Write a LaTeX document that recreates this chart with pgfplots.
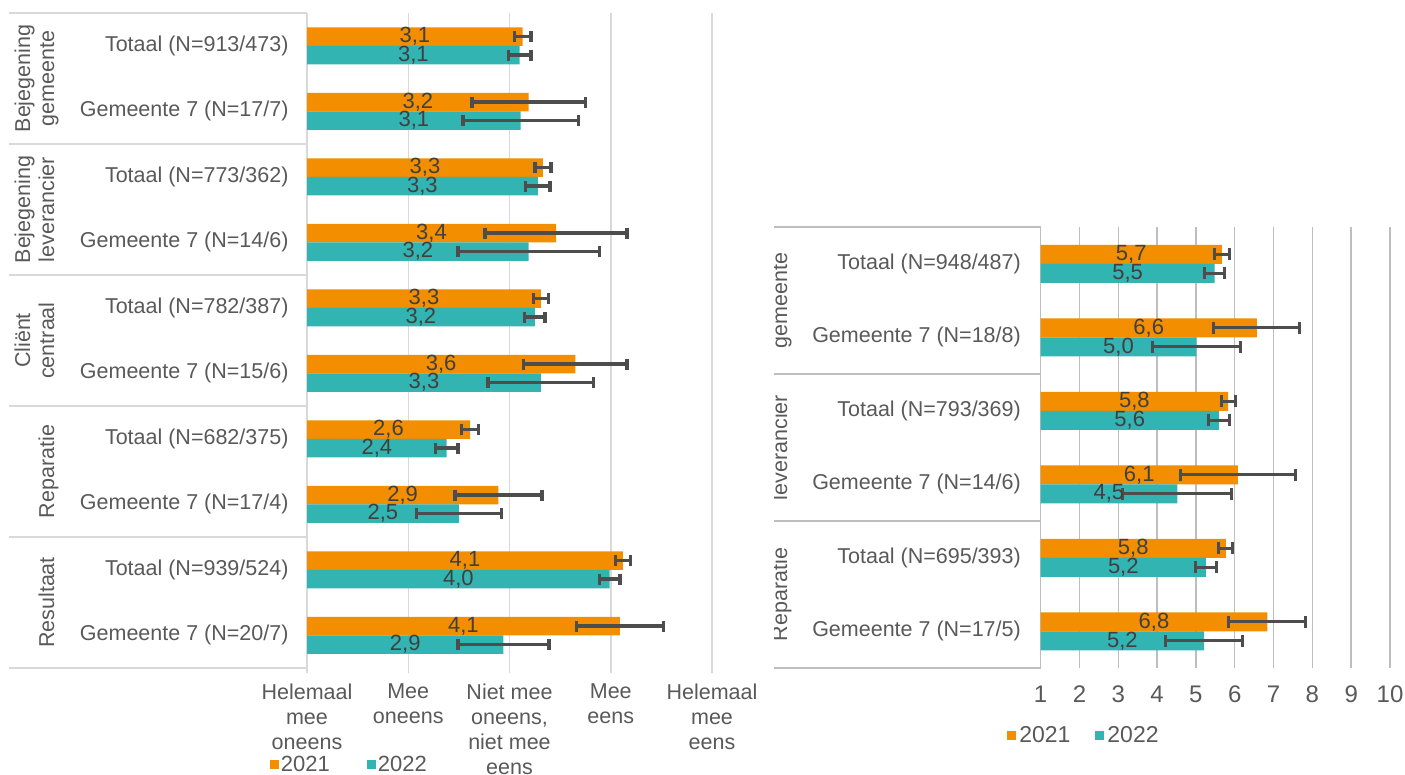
\documentclass[border=0pt]{standalone}
\usepackage{pgfplots}
\pgfplotsset{compat=1.18}
\usepackage{pgfplotstable}
\usepackage{fontspec}
\setmainfont{Liberation Sans}
\definecolor{cor}{RGB}{242,142,0}
\definecolor{cteal}{RGB}{50,180,178}
\definecolor{txt}{RGB}{89,89,89}
\definecolor{labc}{RGB}{64,64,64}
\definecolor{errc}{RGB}{77,77,77}
\definecolor{gridl}{RGB}{217,217,217}
\definecolor{gridr}{RGB}{190,190,190}

\pgfplotstableread{
y v e lab
0 3.13 0.08 3,1
1 3.19 0.56 3,2
2 3.33 0.08 3,3
3 3.46 0.70 3,4
4 3.31 0.075 3,3
5 3.65 0.51 3,6
6 2.61 0.085 2,6
7 2.89 0.43 2,9
8 4.12 0.075 4,1
9 4.09 0.43 4,1
}\leftA
\pgfplotstableread{
y v e lab
0 3.10 0.11 3,1
1 3.11 0.57 3,1
2 3.28 0.12 3,3
3 3.19 0.70 3,2
4 3.25 0.10 3,2
5 3.31 0.52 3,3
6 2.38 0.11 2,4
7 2.50 0.42 2,5
8 3.99 0.10 4,0
9 2.94 0.45 2,9
}\leftB
\pgfplotstableread{
y v e lab
0 5.67 0.19 5,7
1 6.57 1.11 6,6
2 5.83 0.18 5,8
3 6.08 1.48 6,1
4 5.77 0.18 5,8
5 6.84 0.99 6,8
}\rightA
\pgfplotstableread{
y v e lab
0 5.48 0.26 5,5
1 5.01 1.13 5,0
2 5.59 0.27 5,6
3 4.52 1.40 4,5
4 5.26 0.28 5,2
5 5.21 1.00 5,2
}\rightB

\pgfplotsset{
  mybars/.style={
    xbar, bar width=18.5pt,
    point meta=explicit symbolic,
    nodes near coords,
    visualization depends on={rawx \as \rawx},
    every node near coord/.append style={anchor=center, text=labc,
      font=\fontsize{22}{24}\selectfont,
      shift={(axis direction cs:{-(\rawx-1)/2},0)}},
    legend image code/.code={\fill[##1] (0pt,-4.5pt) rectangle (9pt,4.5pt);},
  },
}

\begin{document}
\begin{tikzpicture}
\path[use as bounding box] (0pt,0pt) rectangle (1405pt,-774pt);

% ---------------- left panel ----------------
\begin{axis}[
  mybars,
  at={(307pt,-13pt)}, anchor=north west,
  scale only axis, width=405pt, height=655pt,
  xmin=1, xmax=5, ymin=-0.5, ymax=9.5, y dir=reverse,
  axis lines*=left,
  x axis line style={draw=none},
  y axis line style={draw=gridl, line width=1.5pt},
  xtick={1,2,3,4,5},
  xticklabels={{Helemaal\\mee\\oneens},{Mee\\oneens},{Niet mee\\oneens,\\niet mee\\eens},{Mee\\eens},{Helemaal\\mee\\eens}},
  xticklabel style={align=center, anchor=north, text=txt, yshift=-7pt,
    font=\fontsize{21.5}{25}\selectfont},
  xtick style={draw=gridl, line width=1.5pt},
  tick align=outside, major tick length=5pt,
  ytick={0,...,9},
  yticklabels={{Totaal (N=913/473)},{Gemeente 7 (N=17/7)},{Totaal (N=773/362)},{Gemeente 7 (N=14/6)},{Totaal (N=782/387)},{Gemeente 7 (N=15/6)},{Totaal (N=682/375)},{Gemeente 7 (N=17/4)},{Totaal (N=939/524)},{Gemeente 7 (N=20/7)}},
  yticklabel style={text=txt, font=\fontsize{21.5}{25}\selectfont, xshift=-10pt},
  ytick style={draw=none},
  xmajorgrids, grid style={draw=gridl, line width=1.5pt},
  legend columns=2,
  legend style={at={(-0.092,-0.148)}, anchor=west, draw=none, fill=none,
    inner sep=0pt, font=\fontsize{22}{24}\selectfont, text=txt,
    /tikz/every even column/.append style={column sep=35pt},
    nodes={inner sep=2pt}},
  error bars/error bar style={line width=3.5pt, draw=errc},
  error bars/error mark options={line width=3.5pt, draw=errc, mark size=5.5pt, rotate=90},
]
\addplot[fill=cor, draw=none, bar shift=9.25pt,
  error bars/.cd, x dir=both, x explicit]
  table[x=v, y=y, x error=e, meta=lab]{\leftA};
\addplot[fill=cteal, draw=none, bar shift=-9.25pt,
  error bars/.cd, x dir=both, x explicit]
  table[x=v, y=y, x error=e, meta=lab]{\leftB};
\legend{2021,2022}
\end{axis}

% ---------------- right panel ----------------
\begin{axis}[
  mybars, bar width=19pt,
  at={(1040.6pt,-227pt)}, anchor=north west,
  scale only axis, width=349.4pt, height=441pt,
  xmin=1, xmax=10, ymin=-0.5, ymax=5.5, y dir=reverse,
  axis lines*=left,
  x axis line style={draw=none},
  y axis line style={draw=gridr, line width=1.5pt},
  xtick={1,...,10},
  /pgf/number format/assume math mode=true,
  xticklabel style={text=txt, yshift=-14pt, font=\fontsize{24}{26}\selectfont},
  xtick style={draw=none},
  ytick={0,...,5},
  yticklabels={{Totaal (N=948/487)},{Gemeente 7 (N=18/8)},{Totaal (N=793/369)},{Gemeente 7 (N=14/6)},{Totaal (N=695/393)},{Gemeente 7 (N=17/5)}},
  yticklabel style={text=txt, font=\fontsize{21.5}{25}\selectfont, xshift=-12pt},
  ytick style={draw=none},
  xmajorgrids, grid style={draw=gridr, line width=1.5pt},
  legend columns=2,
  legend style={at={(-0.096,-0.152)}, anchor=west, draw=none, fill=none,
    inner sep=0pt, font=\fontsize{23}{25}\selectfont, text=txt,
    /tikz/every even column/.append style={column sep=22pt},
    nodes={inner sep=3pt}},
  error bars/error bar style={line width=3pt, draw=errc},
  error bars/error mark options={line width=3pt, draw=errc, mark size=6pt, rotate=90},
]
\addplot[fill=cor, draw=none, bar shift=9.5pt,
  error bars/.cd, x dir=both, x explicit]
  table[x=v, y=y, x error=e, meta=lab]{\rightA};
\addplot[fill=cteal, draw=none, bar shift=-9.5pt,
  error bars/.cd, x dir=both, x explicit]
  table[x=v, y=y, x error=e, meta=lab]{\rightB};
\legend{2021,2022}
\end{axis}

% ---------------- category tables ----------------
\foreach \yy in {13,144,275,406,537,668}
  \draw[gridl, line width=2pt] (9pt,-\yy pt) -- (307pt,-\yy pt);
\foreach \yy in {227,374,521,668}
  \draw[gridr, line width=2pt] (774pt,-\yy pt) -- (1040.6pt,-\yy pt);

\begin{scope}[every node/.style={rotate=90, anchor=base, text=txt, font=\fontsize{21.5}{25}\selectfont, inner sep=0pt}]
\node at (30pt,-78.5pt) {Bejegening};
\node at (54pt,-78.5pt) {gemeente};
\node at (30pt,-209.5pt) {Bejegening};
\node at (54pt,-209.5pt) {leverancier};
\node at (30pt,-340.5pt) {Cliënt};
\node at (54pt,-340.5pt) {centraal};
\node at (54pt,-471.5pt) {Reparatie};
\node at (54pt,-602.5pt) {Resultaat};
\clip (774pt,-200pt) rectangle (1000pt,-700pt);
\node at (787pt,-300.5pt) {gemeente};
\node at (787pt,-447.5pt) {leverancier};
\node at (787pt,-594.5pt) {Reparatie};
\end{scope}
\end{tikzpicture}
\end{document}
